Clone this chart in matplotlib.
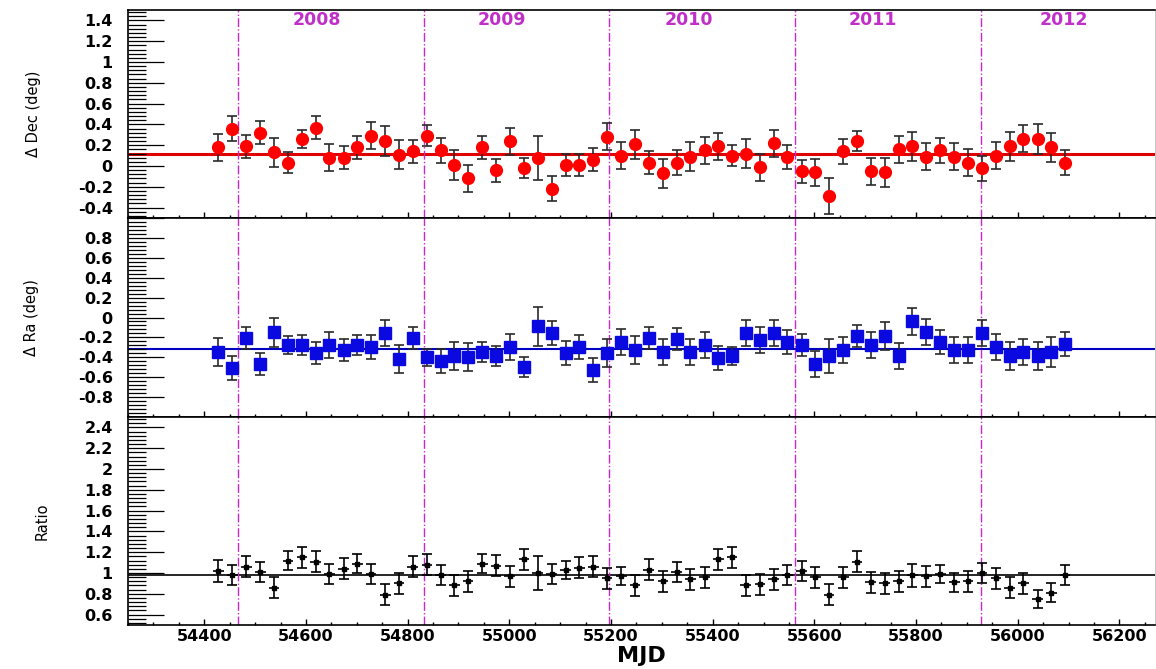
import matplotlib
matplotlib.use("Agg")
import matplotlib.pyplot as plt
from matplotlib.ticker import MultipleLocator, AutoMinorLocator, FuncFormatter

plt.rcParams['font.family'] = ['DejaVu Sans']
plt.rcParams['axes.unicode_minus'] = False

# bin centres (MJD)
mjd = [54428, 54455, 54483, 54510, 54537, 54565, 54592, 54619, 54646, 54674,
       54701, 54728, 54756, 54783, 54810, 54838, 54865, 54892, 54919, 54947,
       54974, 55001, 55029, 55056, 55083, 55111, 55138, 55165, 55192, 55220,
       55247, 55274, 55302, 55329, 55356, 55384, 55411, 55438, 55465, 55493,
       55520, 55547, 55575, 55602, 55629, 55657, 55684, 55711, 55738, 55766,
       55793, 55820, 55848, 55875, 55902, 55930, 55957, 55984, 56011, 56039,
       56066, 56093]

dec = [0.18, 0.36, 0.19, 0.32, 0.13, 0.03, 0.26, 0.37, 0.08, 0.08,
       0.18, 0.29, 0.24, 0.11, 0.14, 0.29, 0.15, 0.01, -0.12, 0.18,
       -0.04, 0.24, -0.02, 0.08, -0.22, 0.01, 0.01, 0.06, 0.28, 0.10,
       0.21, 0.03, -0.07, 0.03, 0.09, 0.15, 0.19, 0.10, 0.12, -0.01,
       0.22, 0.09, -0.05, -0.06, -0.29, 0.14, 0.24, -0.05, -0.06, 0.16,
       0.19, 0.09, 0.15, 0.09, 0.03, -0.02, 0.10, 0.19, 0.26, 0.26,
       0.18, 0.03]
dec_err = [0.13, 0.12, 0.11, 0.11, 0.14, 0.10, 0.09, 0.115, 0.13, 0.11,
           0.11, 0.13, 0.14, 0.14, 0.11, 0.10, 0.12, 0.14, 0.13, 0.11,
           0.11, 0.13, 0.10, 0.21, 0.12, 0.11, 0.11, 0.11, 0.13, 0.13,
           0.14, 0.11, 0.14, 0.12, 0.14, 0.13, 0.13, 0.10, 0.14, 0.13,
           0.13, 0.115, 0.11, 0.13, 0.17, 0.12, 0.10, 0.13, 0.14, 0.13,
           0.14, 0.13, 0.12, 0.13, 0.13, 0.12, 0.13, 0.14, 0.13, 0.14,
           0.14, 0.12]
dec_mean = 0.12

ra = [-0.35, -0.51, -0.21, -0.47, -0.15, -0.28, -0.28, -0.36, -0.28, -0.33,
      -0.28, -0.30, -0.16, -0.42, -0.21, -0.40, -0.44, -0.39, -0.40, -0.35,
      -0.39, -0.30, -0.50, -0.09, -0.16, -0.36, -0.30, -0.53, -0.36, -0.25,
      -0.33, -0.21, -0.35, -0.22, -0.35, -0.28, -0.41, -0.39, -0.16, -0.23,
      -0.16, -0.25, -0.28, -0.47, -0.39, -0.33, -0.19, -0.28, -0.19, -0.39,
      -0.04, -0.15, -0.25, -0.33, -0.33, -0.16, -0.30, -0.39, -0.35, -0.39,
      -0.35, -0.27]
ra_err = [0.14, 0.12, 0.11, 0.11, 0.15, 0.09, 0.10, 0.11, 0.13, 0.11,
          0.10, 0.12, 0.13, 0.14, 0.11, 0.085, 0.12, 0.14, 0.14, 0.10,
          0.10, 0.13, 0.10, 0.20, 0.12, 0.12, 0.12, 0.12, 0.14, 0.13,
          0.14, 0.11, 0.13, 0.11, 0.13, 0.13, 0.12, 0.09, 0.13, 0.13,
          0.13, 0.12, 0.11, 0.13, 0.17, 0.13, 0.11, 0.13, 0.14, 0.13,
          0.14, 0.13, 0.12, 0.13, 0.13, 0.13, 0.13, 0.14, 0.13, 0.14,
          0.15, 0.12]
ra_mean = -0.32

ratio = [1.02, 0.98, 1.06, 1.01, 0.86, 1.12, 1.15, 1.11, 0.99, 1.04,
         1.09, 0.99, 0.79, 0.90, 1.06, 1.08, 0.98, 0.88, 0.92, 1.09,
         1.07, 0.97, 1.13, 1.00, 0.99, 1.03, 1.05, 1.06, 0.95, 0.97,
         0.88, 1.03, 0.92, 1.01, 0.94, 0.96, 1.13, 1.15, 0.88, 0.89,
         0.94, 0.98, 1.02, 0.96, 0.79, 0.96, 1.11, 0.91, 0.90, 0.92,
         0.98, 0.97, 0.99, 0.91, 0.92, 1.00, 0.95, 0.86, 0.90, 0.75,
         0.81, 0.98]
ratio_err = [0.105, 0.10, 0.10, 0.10, 0.10, 0.09, 0.10, 0.10, 0.10, 0.10,
             0.09, 0.10, 0.10, 0.10, 0.10, 0.10, 0.10, 0.10, 0.10, 0.09,
             0.10, 0.10, 0.10, 0.16, 0.10, 0.09, 0.10, 0.10, 0.10, 0.09,
             0.10, 0.10, 0.10, 0.10, 0.10, 0.10, 0.10, 0.10, 0.10, 0.10,
             0.10, 0.10, 0.10, 0.10, 0.10, 0.10, 0.10, 0.10, 0.10, 0.10,
             0.11, 0.10, 0.09, 0.09, 0.10, 0.10, 0.10, 0.10, 0.10, 0.09,
             0.09, 0.10]
ratio_xerr = 10.5
ratio_mean = 0.98

# year boundaries and labels
year_starts = [54466, 54832, 55197, 55562, 55927]
year_labels = ['2008', '2009', '2010', '2011', '2012']
year_label_x = [54621, 54986, 55353, 55716, 56090]

fig = plt.figure(figsize=(11.56, 6.69), dpi=100)
L, W = 128 / 1156, 1027 / 1156
ax1 = fig.add_axes([L, 1 - 218 / 669, W, 208 / 669])
ax2 = fig.add_axes([L, 1 - 417 / 669, W, 199 / 669])
ax3 = fig.add_axes([L, 1 - 625 / 669, W, 208 / 669])

err_col = '#2a2a2a'

# Dec panel
ax1.axhline(dec_mean, color='#e00000', lw=2.2, zorder=1)
ax1.errorbar(mjd, dec, yerr=dec_err, fmt='o', color='red', ms=8.5,
             ecolor=err_col, elinewidth=1.2, capsize=3.8, capthick=1.2, zorder=3)
ax1.set_ylim(-0.5, 1.5)
ax1.set_ylabel('\u0394 Dec (deg)', fontsize=10.5)
for x, t in zip(year_label_x, year_labels):
    ax1.text(x, 1.405, t, color='#c030c8', fontsize=12.5, fontweight='bold',
             ha='center', va='center')

# Ra panel
ax2.axhline(ra_mean, color='#0000c0', lw=1.5, zorder=1)
ax2.errorbar(mjd, ra, yerr=ra_err, fmt='s', color='#0a0ae0', ms=8.5,
             ecolor=err_col, elinewidth=1.2, capsize=3.8, capthick=1.2, zorder=3)
ax2.set_ylim(-1, 1)
ax2.set_ylabel('\u0394 Ra (deg)', fontsize=10.5)

# Ratio panel
ax3.axhline(ratio_mean, color='black', lw=1.2, zorder=1)
ax3.errorbar(mjd, ratio, yerr=ratio_err, fmt='none', ecolor='black',
             elinewidth=1.2, capsize=3.8, capthick=1.2, zorder=3)
ax3.errorbar(mjd, ratio, xerr=ratio_xerr, fmt='s', color='black', ms=3.5,
             ecolor='black', elinewidth=1.2, capsize=0, zorder=3)
ax3.set_ylim(0.5, 2.5)
ax3.set_ylabel('Ratio', fontsize=10.5)
ax3.set_xlabel('MJD', fontsize=16, fontweight='bold', labelpad=1)


def fmt(v, pos):
    return '%g' % round(v, 2)


def fmt_inner(v, pos):
    if abs(abs(v) - 1) < 1e-6:
        return ''
    return '%g' % round(v, 2)


for ax, lx, f in [(ax1, -0.085, fmt), (ax2, -0.087, fmt_inner), (ax3, -0.076, fmt)]:
    ax.set_xlim(54250, 56270)
    ax.xaxis.set_major_locator(MultipleLocator(200))
    ax.xaxis.set_minor_locator(MultipleLocator(50))
    ax.yaxis.set_major_locator(MultipleLocator(0.2))
    ax.yaxis.set_minor_locator(AutoMinorLocator(5))
    ax.yaxis.set_major_formatter(FuncFormatter(f))
    ax.tick_params(axis='y', which='major', direction='in', length=26, width=0.9,
                   pad=11, labelsize=11.5)
    ax.tick_params(axis='y', which='minor', direction='in', length=13, width=0.9)
    ax.tick_params(axis='x', which='major', direction='in', length=4.5, width=1)
    ax.tick_params(axis='x', which='minor', direction='in', length=2.5, width=1)
    ax.tick_params(axis='x', labelsize=11.5, pad=3)
    for lab in ax.get_yticklabels() + ax.get_xticklabels():
        lab.set_fontweight('bold')
    ax.yaxis.set_label_coords(lx, 0.5)
    for s in ['left', 'bottom', 'top']:
        ax.spines[s].set_linewidth(1.2)
    ax.spines['right'].set_linewidth(0.6)
    ax.spines['right'].set_color('#bbbbbb')
    for xs in year_starts:
        ax.axvline(xs, color='#c828c8', lw=1.0, ls='-.', zorder=2)

for ax in (ax1, ax2):
    ax.tick_params(axis='x', labelbottom=False)

fig.savefig('out.png', dpi=100)
